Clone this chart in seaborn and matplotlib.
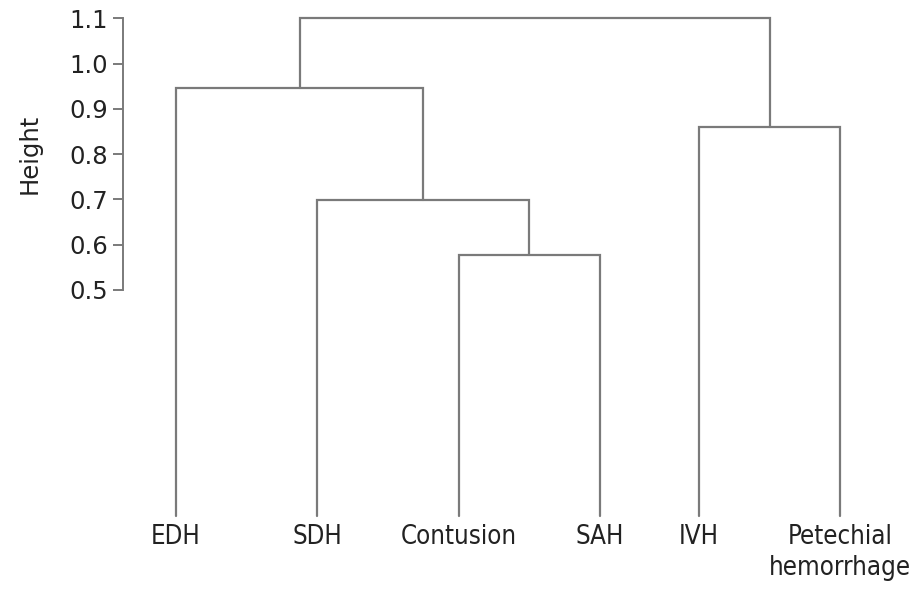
import matplotlib
matplotlib.use("Agg")
import matplotlib.pyplot as plt
from matplotlib import font_manager
import seaborn as sns
import pandas as pd

# ---- data ----
leaves = ["EDH", "SDH", "Contusion", "SAH", "IVH", "Petechial\nhemorrhage"]
leaf_pos = [1.0, 2.0, 3.0, 4.0, 4.7, 5.7]
leaf_height = [0.0, 0.0, 0.0, 0.0, 0.0, 0.0]
# merges: (left child, right child, height); children are leaf names or merge ids "m0".."m4"
merge_left = ["Contusion", "SDH", "EDH", "IVH", "m2"]
merge_right = ["SAH", "m0", "m1", "Petechial\nhemorrhage", "m3"]
merge_height = [0.577, 0.699, 0.946, 0.861, 1.10]
y_ticks = [0.5, 0.6, 0.7, 0.8, 0.9, 1.0, 1.1]

sns.set_theme(style="white")
plt.rcParams["font.family"] = ["DejaVu Sans"]
has_condensed = any(f.name == "DejaVu Sans" and f.stretch == "condensed"
                    for f in font_manager.fontManager.ttflist)
has_narrow = any(f.name == "Liberation Sans Narrow" for f in font_manager.fontManager.ttflist)

# node positions
node_x = {n: x for n, x in zip(leaves, leaf_pos)}
node_y = {n: y for n, y in zip(leaves, leaf_height)}
rows = []
for i, (l, r, h) in enumerate(zip(merge_left, merge_right, merge_height)):
    xs = [node_x[l], node_x[l], node_x[r], node_x[r]]
    ys = [node_y[l], h, h, node_y[r]]
    for k, (x, y) in enumerate(zip(xs, ys)):
        rows.append({"seg": i, "order": k, "x": x, "y": y})
    node_x[f"m{i}"] = (node_x[l] + node_x[r]) / 2
    node_y[f"m{i}"] = h
df = pd.DataFrame(rows)

fig = plt.figure(figsize=(9.2, 5.89), dpi=100)
ax = fig.add_axes([123 / 920, 0.1233, 797 / 920, 0.8456])

line_color = "#7a7a7a"
sns.lineplot(data=df, x="x", y="y", units="seg", estimator=None, sort=False,
             color=line_color, linewidth=1.6, ax=ax, legend=False)
for ln in ax.lines:
    ln.set_clip_on(False)
    ln.set_solid_joinstyle("miter")

ax.set_xlim(0.625, 6.265)
ax.set_ylim(0, 1.1)

for s in ["top", "right", "bottom"]:
    ax.spines[s].set_visible(False)
ax.spines["left"].set_bounds(0.5, 1.1)
ax.spines["left"].set_color(line_color)
ax.spines["left"].set_linewidth(1.4)

ax.set_yticks(y_ticks)
ax.set_yticklabels([f"{v:.1f}" for v in y_ticks])
ax.tick_params(axis="y", left=True, direction="out", length=7.2, width=1.4,
               color=line_color, labelsize=17.5, labelcolor="#222222", pad=3.5)

ax.set_xticks(leaf_pos)
if has_condensed:
    lab_kw = dict(family=["DejaVu Sans"], fontstretch="condensed", fontsize=18.5)
elif has_narrow:
    lab_kw = dict(family=["Liberation Sans Narrow", "DejaVu Sans"], fontsize=19)
else:
    lab_kw = dict(family=["DejaVu Sans"], fontsize=17)
ax.set_xticklabels(leaves, color="#222222", linespacing=1.25, **lab_kw)
ax.tick_params(axis="x", bottom=False, length=0, pad=5.5)

ax.set_xlabel("")
ax.set_ylabel("Height", fontsize=17.5, color="#222222", va="center")
ax.yaxis.set_label_coords(-0.1167, 0.727)

fig.savefig("out.png", dpi=100)
